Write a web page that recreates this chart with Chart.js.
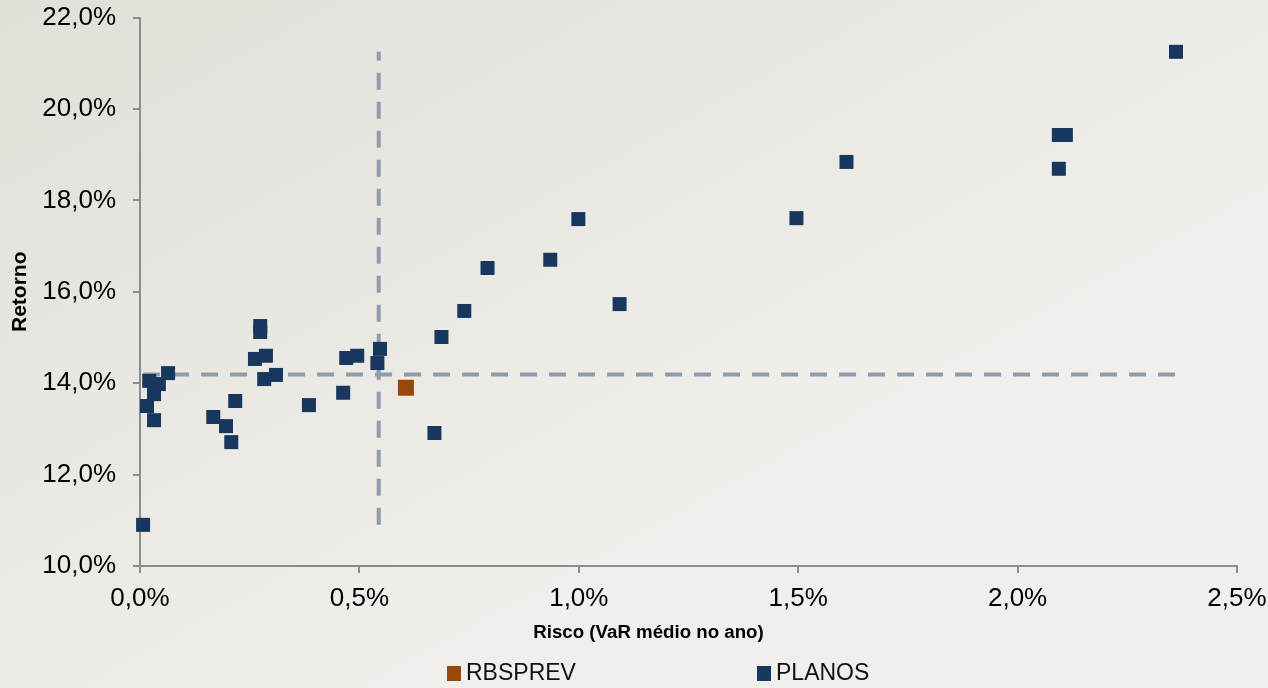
<!DOCTYPE html>
<html>
<head>
<meta charset="utf-8">
<script src="https://cdn.jsdelivr.net/npm/chart.js@4"></script>
<style>
  html, body { margin: 0; padding: 0; background: #ebe8e3; }
  #wrap { width: 1268px; height: 688px; position: relative; }
</style>
</head>
<body>
<div id="wrap"><canvas id="c" width="1268" height="688"></canvas></div>
<script>
// ---- Data ----
const seriesNames = ["RBSPREV", "PLANOS"];
const rbsprevRisk = [0.606];
const rbsprevReturn = [13.90];
const planosRisk = [0.007, 0.016, 0.021, 0.032, 0.032, 0.043, 0.064, 0.167, 0.196, 0.208, 0.217,
  0.262, 0.274, 0.274, 0.287, 0.283, 0.310, 0.385, 0.463, 0.470, 0.495, 0.541, 0.547,
  0.671, 0.687, 0.739, 0.792, 0.935, 0.999, 1.093, 1.496, 1.610, 2.094, 2.110, 2.094, 2.361];
const planosReturn = [10.90, 13.50, 14.05, 13.19, 13.76, 13.98, 14.22, 13.26, 13.06, 12.71, 13.61,
  14.53, 15.25, 15.12, 14.60, 14.09, 14.18, 13.52, 13.79, 14.55, 14.60, 14.44, 14.75,
  12.91, 15.01, 15.58, 16.52, 16.70, 17.59, 15.73, 17.61, 18.84, 19.43, 19.43, 18.69, 21.25];
const avgRisk = 0.544;    // vertical dashed reference line
const avgReturn = 14.19;  // horizontal dashed reference line
const xTicks = [0, 0.5, 1.0, 1.5, 2.0, 2.5];
const yTicks = [10, 12, 14, 16, 18, 20, 22];
const xTitle = "Risco (VaR médio no ano)";
const yTitle = "Retorno";

// ---- Build datasets ----
const toPts = (xs, ys) => xs.map((x, i) => ({ x: x, y: ys[i] }));
const minRisk = Math.min(...planosRisk, ...rbsprevRisk);
const maxRisk = Math.max(...planosRisk, ...rbsprevRisk);
const minRet = Math.min(...planosReturn, ...rbsprevReturn);
const maxRet = Math.max(...planosReturn, ...rbsprevReturn);

const BLUE = '#17375e';
const ORANGE = '#984807';
const DASH = '#8e9cad';
const AXIS = '#8c8c8c';
const FONT = "'Liberation Sans', Arial, sans-serif";

const fmt = v => v.toFixed(1).replace('.', ',') + '%';

const bgPlugin = {
  id: 'bg',
  beforeDraw(chart) {
    const { ctx, width, height } = chart;
    const g = ctx.createLinearGradient(0, 0, width * 0.3, height);
    g.addColorStop(0, '#e2dfd9');
    g.addColorStop(1, '#f1efeb');
    ctx.save();
    ctx.fillStyle = g;
    ctx.fillRect(0, 0, width, height);
    ctx.restore();
  }
};

// x-axis title and legend, drawn below the axis like the reference
const bottomTextPlugin = {
  id: 'bottomText',
  afterDraw(chart) {
    const { ctx } = chart;
    ctx.save();
    ctx.fillStyle = '#000';
    ctx.font = "bold 18.7px " + FONT;
    ctx.textAlign = 'center';
    ctx.textBaseline = 'middle';
    ctx.fillText(xTitle, 648.5, 633);

    const items = [
      { ds: chart.data.datasets[0], bx: 447 },
      { ds: chart.data.datasets[1], bx: 757 }
    ];
    ctx.font = "23px " + FONT;
    ctx.textAlign = 'left';
    items.forEach(it => {
      ctx.fillStyle = it.ds.backgroundColor;
      ctx.fillRect(it.bx, 666, 14, 15);
      ctx.fillStyle = '#111';
      ctx.fillText(it.ds.label, it.bx + 19, 674);
    });
    ctx.restore();
  }
};

new Chart(document.getElementById('c'), {
  type: 'scatter',
  data: {
    datasets: [
      {
        label: seriesNames[0],
        data: toPts(rbsprevRisk, rbsprevReturn),
        backgroundColor: ORANGE,
        borderColor: ORANGE,
        borderWidth: 0,
        pointStyle: 'rect',
        pointRadius: 11.3,
        pointHoverRadius: 11.3,
        clip: false
      },
      {
        label: seriesNames[1],
        data: toPts(planosRisk, planosReturn),
        backgroundColor: BLUE,
        borderColor: BLUE,
        borderWidth: 0,
        pointStyle: 'rect',
        pointRadius: 9.9,
        pointHoverRadius: 9.9,
        clip: false
      },
      {
        label: 'avgReturn',
        data: [{ x: minRisk, y: avgReturn }, { x: maxRisk, y: avgReturn }],
        showLine: true,
        borderColor: DASH,
        borderWidth: 4,
        borderDash: [17, 12],
        pointRadius: 0,
        clip: false
      },
      {
        label: 'avgRisk',
        data: [{ x: avgRisk, y: minRet }, { x: avgRisk, y: maxRet }],
        showLine: true,
        borderColor: DASH,
        borderWidth: 4,
        borderDash: [17, 12],
        pointRadius: 0,
        clip: false
      }
    ]
  },
  options: {
    responsive: false,
    animation: false,
    devicePixelRatio: 1,
    layout: { padding: { top: 17.5, right: 31, bottom: 0, left: 0 } },
    plugins: {
      legend: { display: false },
      tooltip: { enabled: false }
    },
    scales: {
      x: {
        type: 'linear',
        min: xTicks[0],
        max: xTicks[xTicks.length - 1],
        afterBuildTicks: s => { s.ticks = xTicks.map(v => ({ value: v })); },
        afterFit: s => { s.height = 122; s.paddingLeft = 0; s.paddingRight = 0; },
        border: { display: true, color: AXIS, width: 2 },
        grid: { display: true, drawOnChartArea: false, drawTicks: true, tickLength: 7, color: AXIS, lineWidth: 2 },
        ticks: {
          callback: v => fmt(v),
          font: { family: FONT, size: 26 },
          color: '#000',
          padding: 10,
          maxRotation: 0
        },
        title: { display: false }
      },
      y: {
        type: 'linear',
        min: yTicks[0],
        max: yTicks[yTicks.length - 1],
        afterBuildTicks: s => { s.ticks = yTicks.map(v => ({ value: v })); },
        afterFit: s => { s.width = 140; s.paddingTop = 0; s.paddingBottom = 0; },
        border: { display: true, color: AXIS, width: 2 },
        grid: { display: true, drawOnChartArea: false, drawTicks: true, tickLength: 7, color: AXIS, lineWidth: 2 },
        ticks: {
          callback: v => fmt(v),
          font: { family: FONT, size: 26 },
          color: '#000',
          padding: 17
        },
        title: {
          display: true,
          text: yTitle,
          font: { family: FONT, size: 21, weight: 'bold' },
          color: '#000',
          padding: { top: 8, bottom: 0 }
        }
      }
    }
  },
  plugins: [bgPlugin, bottomTextPlugin]
});
</script>
</body>
</html>
